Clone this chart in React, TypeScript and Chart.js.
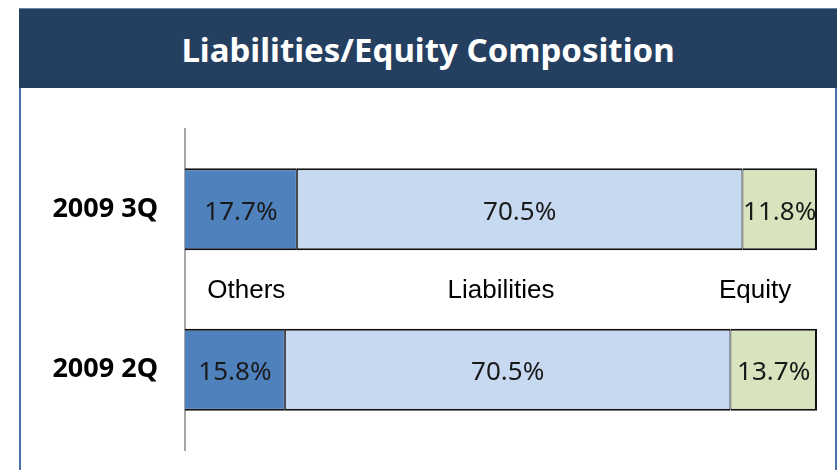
import React, { useEffect, useRef } from "react";
import { Chart, registerables } from "chart.js";

Chart.register(...registerables);

const categories = ["2009 3Q", "2009 2Q"];
const seriesNames = ["Others", "Liabilities", "Equity"];
const othersValues = [17.7, 15.8];
const liabilitiesValues = [70.5, 70.5];
const equityValues = [11.8, 13.7];
const seriesColors = ["#4F81BD", "#C6D9F1", "#D7E4BD"];
// x positions (axis units, %) of the series name captions between the bars
const seriesLabelAt = [9.7, 50, 90.2];
const titleText = "Liabilities/Equity Composition";

const labelPlugin = {
  id: "valueLabels",
  afterDatasetsDraw(chart: any) {
    const ctx = chart.ctx;
    ctx.save();
    ctx.font = '26px "Noto Sans"';
    ctx.fillStyle = "#1a1a1a";
    ctx.textAlign = "center";
    ctx.textBaseline = "middle";
    chart.data.datasets.forEach((ds: any, di: number) => {
      const meta = chart.getDatasetMeta(di);
      meta.data.forEach((el: any, i: number) => {
        const cx = (el.x + el.base) / 2;
        ctx.fillText(ds.data[i].toFixed(1) + "%", cx, el.y + 3);
      });
    });
    const xs = chart.scales.x;
    const ys = chart.scales.y;
    const midY = (ys.getPixelForValue(0) + ys.getPixelForValue(1)) / 2;
    ctx.font = '26px "Liberation Sans"';
    ctx.fillStyle = "#000";
    seriesNames.forEach((n, i) => {
      ctx.fillText(n, xs.getPixelForValue(seriesLabelAt[i]), midY + 1);
    });
    ctx.restore();
  },
};

export default function App() {
  const ref = useRef<HTMLCanvasElement>(null);
  useEffect(() => {
    if (!ref.current) return;
    const border = "#111111";
    const chart = new Chart(ref.current, {
      type: "bar",
      data: {
        labels: categories,
        datasets: [
          {
            label: seriesNames[0],
            data: othersValues,
            backgroundColor: seriesColors[0],
            borderColor: border,
            borderWidth: { top: 2, bottom: 2, left: 0, right: 1 },
            borderSkipped: false,
          },
          {
            label: seriesNames[1],
            data: liabilitiesValues,
            backgroundColor: seriesColors[1],
            borderColor: border,
            borderWidth: { top: 2, bottom: 2, left: 1, right: 1 },
            borderSkipped: false,
          },
          {
            label: seriesNames[2],
            data: equityValues,
            backgroundColor: seriesColors[2],
            borderColor: border,
            borderWidth: { top: 2, bottom: 2, left: 1, right: 2 },
            borderSkipped: false,
          },
        ] as any,
      },
      options: {
        indexAxis: "y",
        responsive: true,
        maintainAspectRatio: false,
        animation: false,
        layout: { padding: { top: 129, bottom: 20, left: 0, right: 21 } },
        datasets: { bar: { categoryPercentage: 1, barPercentage: 0.51 } } as any,
        plugins: { legend: { display: false }, tooltip: { enabled: false } },
        scales: {
          x: { stacked: true, min: 0, max: 100, display: false },
          y: {
            stacked: true,
            grid: { display: false, drawTicks: false },
            border: { display: true, color: "#A6A6A6", width: 2 },
            ticks: {
              padding: 27,
              color: "#000",
              font: { family: "Noto Sans", size: 27, weight: "bold" },
            },
            afterFit: (axis: any) => {
              axis.width = 185;
              axis.paddingTop = 0;
              axis.paddingBottom = 0;
            },
          },
        },
      } as any,
      plugins: [labelPlugin],
    });
    return () => chart.destroy();
  }, []);

  return (
    <div style={{ position: "absolute", left: 0, top: 0, width: 838, height: 470, overflow: "hidden", background: "#fff" }}>
      <div
        style={{
          position: "absolute",
          left: 19,
          top: 8,
          width: 814,
          height: 480,
          border: "2px solid #4A6FA5",
          boxSizing: "content-box",
        }}
      />
      <div
        style={{
          position: "absolute",
          left: 19,
          top: 8,
          width: 818,
          height: 80,
          background: "#243F60",
          borderTop: "1px solid #6C86A8",
          boxSizing: "border-box",
          display: "flex",
          alignItems: "center",
          justifyContent: "center",
          color: "#fff",
          fontFamily: "Noto Sans",
          fontWeight: "bold",
          fontSize: 33,
          paddingTop: 2,
        }}
      >
        {titleText}
      </div>
      <div style={{ position: "absolute", left: 0, top: 0, width: 838, height: 470 }}>
        <canvas ref={ref} />
      </div>
    </div>
  );
}
